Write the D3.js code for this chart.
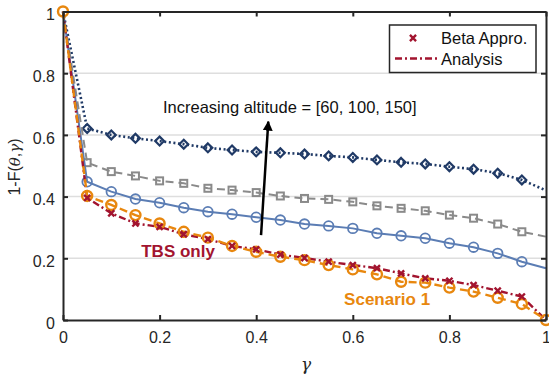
<!DOCTYPE html>
<html><head><meta charset="utf-8">
<script src="https://cdn.jsdelivr.net/npm/d3@7"></script>
<style>body{margin:0;background:#fff}svg{display:block;font-family:"Liberation Sans",Arial,sans-serif}</style>
</head><body><svg id="c" width="549" height="380"></svg>
<script>
const gammaVals = [0,0.05,0.1,0.15,0.2,0.25,0.3,0.35,0.4,0.45,0.5,0.55,0.6,0.65,0.7,0.75,0.8,0.85,0.9,0.95,1];
const alt150 = [1,0.621,0.600,0.589,0.580,0.570,0.558,0.551,0.545,0.542,0.538,0.532,0.527,0.519,0.511,0.506,0.497,0.489,0.476,0.454,0.42];
const alt100 = [1,0.510,0.481,0.467,0.451,0.443,0.427,0.421,0.413,0.402,0.394,0.391,0.383,0.370,0.362,0.354,0.340,0.330,0.311,0.286,0.270];
const alt60  = [1,0.448,0.416,0.392,0.380,0.364,0.351,0.343,0.333,0.324,0.311,0.305,0.297,0.281,0.273,0.265,0.249,0.236,0.216,0.189,0.168];
const scenario1 = [1,0.402,0.373,0.340,0.313,0.286,0.267,0.240,0.221,0.205,0.194,0.178,0.164,0.148,0.124,0.121,0.105,0.092,0.072,0.052,0];
const tbsOnly = [1,0.396,0.346,0.313,0.302,0.278,0.262,0.240,0.229,0.212,0.201,0.189,0.178,0.168,0.151,0.135,0.127,0.113,0.095,0.076,0];
const xTicks = [0,0.2,0.4,0.6,0.8,1];
const yTicks = [0,0.2,0.4,0.6,0.8,1];
const legendLabels = ["Beta Appro.","Analysis"];
const annotationText = "Increasing altitude = [60, 100, 150]";

const svg = d3.select("#c");
const L=63,T=11.5,W=483,H=308.5;
const x = d3.scaleLinear().domain([0,1]).range([L,L+W]);
const y = d3.scaleLinear().domain([0,1]).range([T+H,T]);
const axisCol="#262626";

// grid
svg.append("g").selectAll("line").data(yTicks.filter(d=>d>0&&d<1)).join("line")
  .attr("x1",L).attr("x2",L+W).attr("y1",d=>y(d)).attr("y2",d=>y(d))
  .attr("stroke","#dedede").attr("stroke-width",1.5);

const line = d3.line().x((d,i)=>x(gammaVals[i])).y(d=>y(d));

function series(vals,color,dash,width){
  svg.append("path").datum(vals).attr("d",line).attr("fill","none")
    .attr("stroke",color).attr("stroke-width",width).attr("stroke-dasharray",dash);
}
// navy dotted diamonds
series(alt150,"#203a66","2,2.6",2.6);
svg.append("g").selectAll("path").data(alt150.slice(1,20)).join("path")
  .attr("d",d3.symbol(d3.symbolDiamond2,50)())
  .attr("transform",(d,i)=>`translate(${x(gammaVals[i+1])},${y(d)})`)
  .attr("fill","none").attr("stroke","#203a66").attr("stroke-width",2.2);
// gray dashed squares
series(alt100,"#8a8a8a","8,5",2);
svg.append("g").selectAll("rect").data(alt100.slice(1,20)).join("rect")
  .attr("x",(d,i)=>x(gammaVals[i+1])-3.5).attr("y",d=>y(d)-3.5).attr("width",7).attr("height",7)
  .attr("fill","none").attr("stroke","#8a8a8a").attr("stroke-width",2);
// blue solid circles
series(alt60,"#5b7db4",null,2);
svg.append("g").selectAll("circle").data(alt60.slice(1,20)).join("circle")
  .attr("cx",(d,i)=>x(gammaVals[i+1])).attr("cy",d=>y(d)).attr("r",4.8)
  .attr("fill","none").attr("stroke","#5b7db4").attr("stroke-width",1.8);
// red dash-dot
series(tbsOnly,"#a2142f","7,3,2,3",2.4);
// orange dashed circles
series(scenario1,"#e8870e","8,5",2.4);
svg.append("g").selectAll("circle").data(scenario1).join("circle")
  .attr("cx",(d,i)=>x(gammaVals[i])).attr("cy",d=>y(d)).attr("r",5)
  .attr("fill","none").attr("stroke","#e8870e").attr("stroke-width",2.4);
// red x markers
const crossPath = d3.symbol(d3.symbolTimes,26)();
svg.append("g").selectAll("path").data(tbsOnly.slice(1,20)).join("path")
  .attr("d",crossPath)
  .attr("transform",(d,i)=>`translate(${x(gammaVals[i+1])},${y(d)})`)
  .attr("fill","none").attr("stroke","#a2142f").attr("stroke-width",2.4);

// axes
function styleAxis(g){g.selectAll("path.domain").attr("stroke",axisCol).attr("stroke-width",2);
  g.selectAll(".tick line").attr("stroke",axisCol).attr("stroke-width",2);
  g.selectAll("text").attr("fill","#262626").attr("font-size",16).attr("font-family","Liberation Sans, Arial, sans-serif");}
const fmt=d3.format("~g");
svg.append("g").attr("transform",`translate(0,${T+H})`)
  .call(d3.axisBottom(x).tickValues(xTicks).tickFormat(fmt).tickSizeInner(-5).tickSizeOuter(0).tickPadding(12)).call(styleAxis);
svg.append("g").attr("transform",`translate(${L},0)`)
  .call(d3.axisLeft(y).tickValues(yTicks).tickFormat(fmt).tickSizeInner(-5).tickSizeOuter(0).tickPadding(8)).call(styleAxis)
  .selectAll("text").attr("dy","0.52em");
svg.append("g").attr("transform",`translate(0,${T})`)
  .call(d3.axisTop(x).tickValues(xTicks).tickFormat("").tickSizeInner(-5).tickSizeOuter(0)).call(styleAxis);
svg.append("g").attr("transform",`translate(${L+W},0)`)
  .call(d3.axisRight(y).tickValues(yTicks).tickFormat("").tickSizeInner(-5).tickSizeOuter(0)).call(styleAxis);

// axis labels
svg.append("text").attr("x",306).attr("y",370).attr("text-anchor","middle")
  .attr("font-size",17).attr("font-family","DejaVu Serif, serif").attr("font-style","italic").attr("fill","#262626").text("γ");
const yl = svg.append("text").attr("transform","translate(20,167) rotate(-90)").attr("text-anchor","middle")
  .attr("font-size",16).attr("fill","#262626");
yl.append("tspan").text("1-F(");
yl.append("tspan").attr("font-style","italic").attr("font-family","DejaVu Serif, serif").attr("font-size",15).text("θ");
yl.append("tspan").text(",");
yl.append("tspan").attr("font-style","italic").attr("font-family","DejaVu Serif, serif").attr("font-size",15).text("γ");
yl.append("tspan").text(")");

// annotations
svg.append("text").attr("x",x(0.207)).attr("y",y(0.67)).attr("font-size",16.5).attr("fill","#111").text(annotationText);
svg.append("text").attr("x",x(0.162)).attr("y",y(0.204)).attr("font-size",17).attr("font-weight","bold").attr("fill","#a2142f").text("TBS only");
svg.append("text").attr("x",x(0.582)).attr("y",y(0.049)).attr("font-size",17).attr("font-weight","bold").attr("fill","#e8870e").text("Scenario 1");

// arrow
svg.append("defs").append("marker").attr("id","ah").attr("viewBox","0 0 10 10").attr("refX",9).attr("refY",5)
  .attr("markerWidth",4).attr("markerHeight",4.5).attr("orient","auto").attr("markerUnits","strokeWidth")
  .append("path").attr("d","M0,0L10,5L0,10Z").attr("fill","#000");
svg.append("line").attr("x1",x(0.41)).attr("y1",y(0.275)).attr("x2",x(0.425)).attr("y2",y(0.643))
  .attr("stroke","#000").attr("stroke-width",2.5).attr("marker-end","url(#ah)");

// legend
const lg = svg.append("g");
lg.append("rect").attr("x",389.5).attr("y",25).attr("width",146.5).attr("height",47.5)
  .attr("fill","#fff").attr("stroke","#262626").attr("stroke-width",1.5);
lg.append("path").attr("d",crossPath).attr("transform","translate(413,38)")
  .attr("fill","none").attr("stroke","#a2142f").attr("stroke-width",2.4);
lg.append("line").attr("x1",395).attr("x2",437).attr("y1",58.5).attr("y2",58.5)
  .attr("stroke","#a2142f").attr("stroke-width",2.4).attr("stroke-dasharray","7,3,2,3");
lg.selectAll("text").data(legendLabels).join("text").attr("x",441).attr("y",(d,i)=>43.5+i*21.5)
  .attr("font-size",16.5).attr("fill","#111").text(d=>d);
</script></body></html>
